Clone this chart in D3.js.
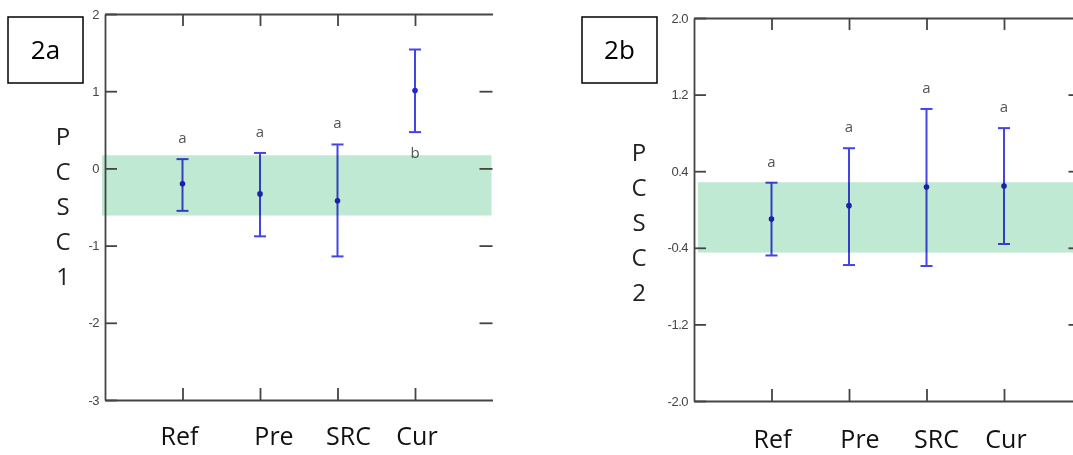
<!DOCTYPE html>
<html>
<head>
<meta charset="utf-8">
<script src="https://cdn.jsdelivr.net/npm/d3@7"></script>
<style>
  body { margin: 0; background: #fff; }
  svg { display: block; }
</style>
</head>
<body>
<svg id="chart" width="1073" height="455"></svg>
<script>
// groups on the x axis
var groups = ["Ref", "Pre", "SRC", "Cur"];

// 2a - PCSC1
var pcsc1Mean  = [-0.20, -0.33, -0.42, 1.01];
var pcsc1Lower = [-0.55, -0.88, -1.14, 0.47];
var pcsc1Upper = [0.12, 0.20, 0.31, 1.54];
var pcsc1Letters = ["a", "a", "a", "b"];
var pcsc1Band = [-0.61, 0.17];
var pcsc1Ticks = [-3, -2, -1, 0, 1, 2];

// 2b - PCSC2
var pcsc2Mean  = [-0.10, 0.04, 0.235, 0.245];
var pcsc2Lower = [-0.48, -0.58, -0.59, -0.36];
var pcsc2Upper = [0.28, 0.64, 1.05, 0.85];
var pcsc2Letters = ["a", "a", "a", "a"];
var pcsc2Band = [-0.45, 0.285];
var pcsc2Ticks = [-2.0, -1.2, -0.4, 0.4, 1.2, 2.0];

var svg = d3.select("#chart");

// plain hyphen minus like the original, not the unicode one
function hyphen(f) {
  return function(v) { return f(v).replace("\u2212", "-"); };
}

function drawPanel(p) {
  var W = 387.5;
  var x = d3.scalePoint().domain(groups).range([p.left, p.left + W]).padding(1);
  var y = d3.scaleLinear().domain([p.ticks[0], p.ticks[p.ticks.length - 1]]).range([p.bottom, p.top]);

  var g = svg.append("g");

  var rows = groups.map(function(name, i) {
    return { name: name, mean: p.mean[i], lo: p.lower[i], hi: p.upper[i], letter: p.letters[i] };
  });

  // error bars
  var bars = g.selectAll(".bar").data(rows).enter().append("g");
  bars.append("line")
    .attr("x1", function(d) { return x(d.name); })
    .attr("x2", function(d) { return x(d.name); })
    .attr("y1", function(d) { return y(d.lo); })
    .attr("y2", function(d) { return y(d.hi); })
    .attr("stroke", "#4444e8").attr("stroke-width", 2);
  ["lo", "hi"].forEach(function(k) {
    bars.append("line")
      .attr("x1", function(d) { return x(d.name) - 6; })
      .attr("x2", function(d) { return x(d.name) + 6; })
      .attr("y1", function(d) { return y(d[k]); })
      .attr("y2", function(d) { return y(d[k]); })
      .attr("stroke", "#4444e8").attr("stroke-width", 2);
  });
  bars.append("circle")
    .attr("cx", function(d) { return x(d.name); })
    .attr("cy", function(d) { return y(d.mean); })
    .attr("r", 2.8)
    .attr("fill", "#2424d0");

  // letters, "b" sits below the bar
  bars.append("text")
    .attr("x", function(d) { return x(d.name); })
    .attr("y", function(d) { return d.letter == "b" ? y(d.lo) + 26 : y(d.hi) - 16; })
    .attr("text-anchor", "middle")
    .style("font-family", "'Open Sans', sans-serif")
    .style("font-size", "15px")
    .style("fill", "#555")
    .text(function(d) { return d.letter; });

  // green reference band (multiplied over the bars)
  g.append("rect")
    .attr("x", p.left + p.bandShift)
    .attr("width", W - p.bandShift - 1)
    .attr("y", y(p.band[1]))
    .attr("height", y(p.band[0]) - y(p.band[1]))
    .attr("fill", "#bfe9d2")
    .style("mix-blend-mode", "multiply");

  // axes
  var axisStyle = function(sel) {
    sel.selectAll("path, line").attr("stroke", "#444").attr("stroke-width", 1.8);
    sel.selectAll("text")
      .style("font-family", "'Liberation Sans', Arial, sans-serif")
      .style("font-size", "13px")
      .style("letter-spacing", "-0.5px")
      .style("fill", "#444");
  };

  g.append("g")
    .attr("transform", "translate(" + p.left + ",0)")
    .call(d3.axisLeft(y).tickValues(p.ticks).tickSize(-12).tickSizeOuter(0).tickPadding(6)
      .tickFormat(hyphen(p.fmt)))
    .call(axisStyle);

  g.append("g")
    .attr("transform", "translate(" + (p.left + W) + ",0)")
    .call(d3.axisRight(y).tickValues(p.ticks.slice(1, -1)).tickSize(-13).tickFormat(""))
    .call(function(s) { s.select(".domain").remove(); })
    .call(axisStyle);

  g.append("g")
    .attr("transform", "translate(0," + p.bottom + ")")
    .call(d3.axisBottom(x).tickSize(-12).tickSizeOuter(0).tickFormat(""))
    .call(axisStyle);

  g.append("g")
    .attr("transform", "translate(0," + p.top + ")")
    .call(d3.axisTop(x).tickSize(-12).tickSizeOuter(0).tickFormat(""))
    .call(axisStyle);

  // category names
  g.selectAll(".cat").data(groups).enter().append("text")
    .attr("x", function(d, i) { return x(d) + p.catShift[i]; })
    .attr("y", p.catBase)
    .attr("text-anchor", "middle")
    .style("font-family", "'Open Sans', sans-serif")
    .style("font-size", "25px")
    .style("fill", "#111")
    .text(function(d) { return d; });

  // stacked y label
  g.selectAll(".ylab").data(p.ylabel.split("")).enter().append("text")
    .attr("x", p.ylabX)
    .attr("y", function(d, i) { return p.ylabY + i * 34.8; })
    .attr("text-anchor", "middle")
    .attr("dy", "0.35em")
    .style("font-family", "'Open Sans', sans-serif")
    .style("font-size", "24px")
    .style("fill", "#222")
    .text(function(d) { return d; });

  // panel tag box
  g.append("rect")
    .attr("x", p.boxX).attr("y", 17)
    .attr("width", 75).attr("height", 66)
    .attr("fill", "none").attr("stroke", "#000").attr("stroke-width", 1.5);
  g.append("text")
    .attr("x", p.boxX + 37.5).attr("y", 50)
    .attr("dy", "0.35em")
    .attr("text-anchor", "middle")
    .style("font-family", "'Open Sans', sans-serif")
    .style("font-size", "26px")
    .style("fill", "#000")
    .text(p.tag);
}

drawPanel({
  tag: "2a", boxX: 8,
  left: 105, top: 14, bottom: 400,
  mean: pcsc1Mean, lower: pcsc1Lower, upper: pcsc1Upper, letters: pcsc1Letters,
  band: pcsc1Band, bandShift: -3, ticks: pcsc1Ticks, fmt: d3.format("d"),
  ylabel: "PCSC1", ylabX: 63, ylabY: 137,
  catShift: [-3, 14, 11, 2], catBase: 445
});

drawPanel({
  tag: "2b", boxX: 582,
  left: 694, top: 18, bottom: 401,
  mean: pcsc2Mean, lower: pcsc2Lower, upper: pcsc2Upper, letters: pcsc2Letters,
  band: pcsc2Band, bandShift: 4, ticks: pcsc2Ticks, fmt: d3.format(".1f"),
  ylabel: "PCSC2", ylabX: 639, ylabY: 153,
  catShift: [1, 11, 10, 2], catBase: 448
});
</script>
</body>
</html>
